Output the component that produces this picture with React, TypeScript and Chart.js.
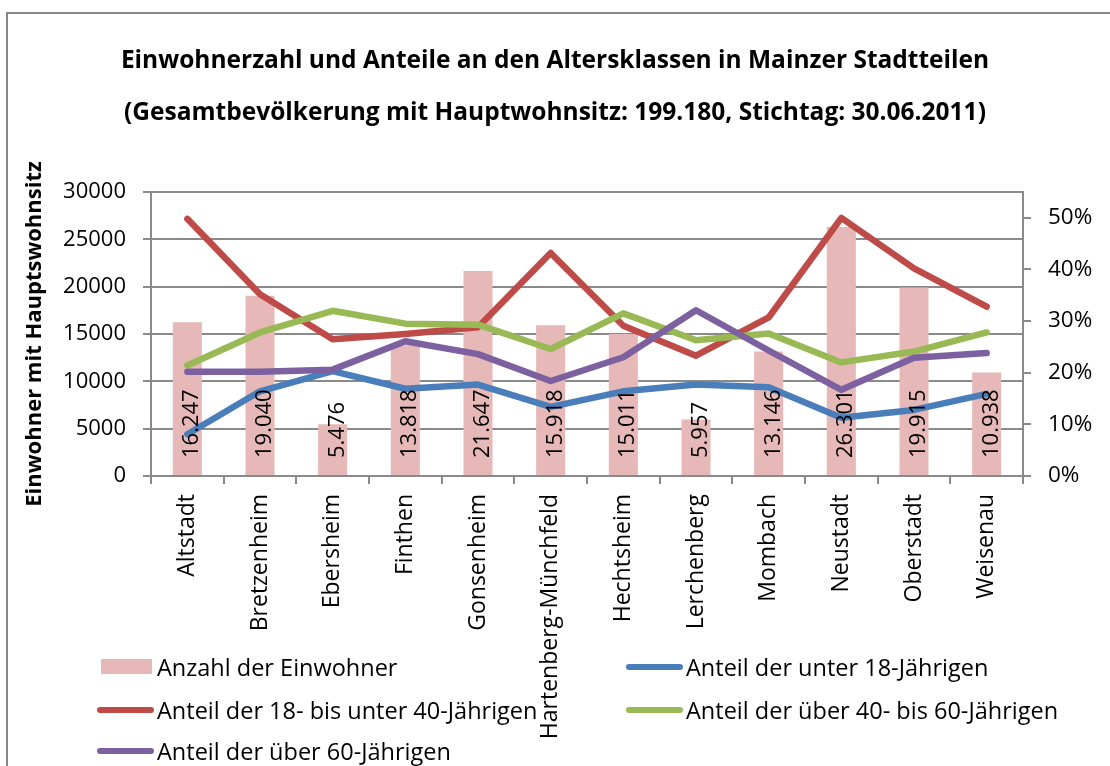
import { useEffect, useRef } from "react";
import { Chart, registerables } from "chart.js";

Chart.register(...registerables);

// ---------- data ----------
const categories = [
  "Altstadt",
  "Bretzenheim",
  "Ebersheim",
  "Finthen",
  "Gonsenheim",
  "Hartenberg-Münchfeld",
  "Hechtsheim",
  "Lerchenberg",
  "Mombach",
  "Neustadt",
  "Oberstadt",
  "Weisenau",
];
const einwohner = [16247, 19040, 5476, 13818, 21647, 15918, 15011, 5957, 13146, 26301, 19915, 10938];
const anteilUnter18 = [0.081, 0.164, 0.203, 0.169, 0.177, 0.134, 0.164, 0.177, 0.172, 0.113, 0.128, 0.159];
const anteil18bis40 = [0.498, 0.352, 0.265, 0.275, 0.288, 0.432, 0.291, 0.233, 0.307, 0.5, 0.402, 0.328];
const anteil40bis60 = [0.214, 0.278, 0.32, 0.295, 0.293, 0.246, 0.315, 0.263, 0.276, 0.22, 0.241, 0.278];
const anteilUeber60 = [0.202, 0.202, 0.206, 0.261, 0.236, 0.184, 0.23, 0.321, 0.243, 0.167, 0.229, 0.238];
const leftTicks = [0, 5000, 10000, 15000, 20000, 25000, 30000];
const rightTicks = [0, 0.1, 0.2, 0.3, 0.4, 0.5];

const titleLines = [
  "Einwohnerzahl und Anteile an den Altersklassen in Mainzer Stadtteilen",
  "(Gesamtbevölkerung mit Hauptwohnsitz: 199.180, Stichtag: 30.06.2011)",
];
const yTitle = "Einwohner mit Hauptswohnsitz";

const seriesLabels = [
  "Anzahl der Einwohner",
  "Anteil der unter 18-Jährigen",
  "Anteil der 18- bis unter 40-Jährigen",
  "Anteil der über 40- bis 60-Jährigen",
  "Anteil der über 60-Jährigen",
];
const seriesColors = ["#E6B9B8", "#4A7EBB", "#BE4B48", "#98B954", "#7D60A0"];

// ---------- helpers ----------
const FONT = '"Open Sans", "DejaVu Sans", sans-serif';
const GRID = "#8a8a8a";
const fmtDe = (v: number) => String(v).replace(/\B(?=(\d{3})+(?!\d))/g, ".");

const barLabelPlugin = {
  id: "barLabels",
  afterDatasetsDraw(chart: any) {
    const meta = chart.getDatasetMeta(0);
    const ctx = chart.ctx;
    const bottom = chart.chartArea.bottom;
    ctx.save();
    ctx.font = `22px ${FONT}`;
    ctx.fillStyle = "#000";
    ctx.textAlign = "left";
    ctx.textBaseline = "alphabetic";
    meta.data.forEach((el: any, i: number) => {
      ctx.save();
      ctx.translate(el.x + 11, bottom - 18);
      ctx.rotate(-Math.PI / 2);
      ctx.fillText(fmtDe(einwohner[i]), 0, 0);
      ctx.restore();
    });
    ctx.restore();
  },
};

function lineDataset(idx: number, data: number[], order: number) {
  return {
    type: "line" as const,
    label: seriesLabels[idx],
    data,
    yAxisID: "y1",
    borderColor: seriesColors[idx],
    backgroundColor: seriesColors[idx],
    borderWidth: 6.5,
    pointRadius: 0,
    tension: 0,
    borderJoinStyle: "round" as const,
    borderCapStyle: "round" as const,
    order,
  };
}

export default function App() {
  const ref = useRef<HTMLCanvasElement>(null);

  useEffect(() => {
    const chart = new Chart(ref.current!, {
      type: "bar",
      data: {
        labels: categories,
        datasets: [
          {
            type: "bar",
            label: seriesLabels[0],
            data: einwohner,
            yAxisID: "y",
            backgroundColor: seriesColors[0],
            borderWidth: 0,
            barPercentage: 1,
            categoryPercentage: 0.4,
            order: 10,
          } as any,
          lineDataset(1, anteilUnter18, 4),
          lineDataset(2, anteil18bis40, 3),
          lineDataset(3, anteil40bis60, 2),
          lineDataset(4, anteilUeber60, 1),
        ],
      },
      options: {
        responsive: false,
        animation: false,
        layout: { padding: 0 },
        plugins: {
          legend: { display: false },
          tooltip: { enabled: false },
          title: {
            display: true,
            text: titleLines,
            color: "#000",
            font: { family: FONT, size: 24.5, weight: "bold", lineHeight: 52 / 24.5 },
            padding: { top: 35, bottom: 53 },
          },
        },
        scales: {
          x: {
            offset: true,
            grid: { display: true, drawOnChartArea: false, drawTicks: true, tickLength: 8, color: GRID, lineWidth: 2, offset: true },
            border: { color: GRID, width: 2 },
            ticks: {
              autoSkip: false,
              minRotation: 90,
              maxRotation: 90,
              padding: 10,
              color: "#000",
              font: { family: FONT, size: 23 },
            },
            afterFit: (s: any) => {
              s.height = 290;
            },
          },
          y: {
            position: "left",
            min: 0,
            max: 30000,
            grid: { color: GRID, lineWidth: 2, tickLength: 8, drawTicks: true },
            border: { color: GRID, width: 2 },
            ticks: {
              padding: 17,
              color: "#000",
              font: { family: FONT, size: 22 },
              callback: (v: any) => String(v),
            },
            afterBuildTicks: (s: any) => {
              s.ticks = leftTicks.map((v) => ({ value: v }));
            },
            title: {
              display: true,
              text: yTitle,
              color: "#000",
              font: { family: FONT, size: 22, weight: "bold" },
              padding: { top: 22, bottom: 0 },
            },
            afterFit: (s: any) => {
              s.width = 151;
            },
          },
          y1: {
            position: "right",
            min: 0,
            max: 0.55,
            grid: { drawOnChartArea: false, color: GRID, lineWidth: 2, tickLength: 8, drawTicks: true },
            border: { color: GRID, width: 2 },
            ticks: {
              padding: 17,
              color: "#000",
              font: { family: FONT, size: 22.5 },
              callback: (v: any) => Math.round(Number(v) * 100) + "%",
            },
            afterBuildTicks: (s: any) => {
              s.ticks = rightTicks.map((v) => ({ value: v }));
            },
            afterFit: (s: any) => {
              s.width = 87;
            },
          },
        },
      } as any,
      plugins: [barLabelPlugin],
    });
    return () => chart.destroy();
  }, []);

  const colX = [97, 626];
  const rowY = [667, 710, 751];

  return (
    <div
      style={{
        position: "fixed",
        left: 0,
        top: 0,
        width: 1110,
        height: 766,
        overflow: "hidden",
        background: "#fff",
      }}
    >
      <div
        style={{
          position: "absolute",
          left: 6,
          top: 12,
          width: 1300,
          height: 1000,
          border: "2px solid #878787",
          boxSizing: "border-box",
        }}
      />
      <canvas
        ref={ref}
        width={1110}
        height={766}
        style={{ position: "absolute", left: 0, top: 0, width: 1110, height: 766 }}
      />
      {seriesLabels.map((label, i) => {
        const x = colX[i % 2];
        const y = rowY[Math.floor(i / 2)];
        const isBox = i === 0;
        return (
          <div key={label}>
            <div
              style={{
                position: "absolute",
                left: isBox ? x + 4 : x,
                top: isBox ? y - 8 : y - 3,
                width: isBox ? 51 : 57,
                height: isBox ? 15 : 6,
                borderRadius: isBox ? 0 : 3,
                background: seriesColors[i],
              }}
            />
            <div
              style={{
                position: "absolute",
                left: x + 60,
                top: y - 16,
                height: 32,
                lineHeight: "32px",
                fontFamily: FONT,
                fontSize: 23.5,
                color: "#000",
                whiteSpace: "nowrap",
              }}
            >
              {label}
            </div>
          </div>
        );
      })}
    </div>
  );
}
